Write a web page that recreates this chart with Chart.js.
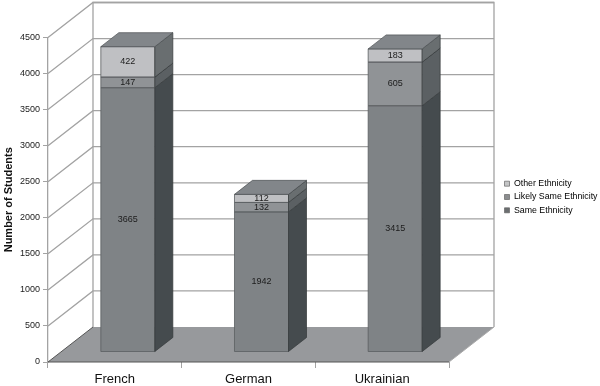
<!DOCTYPE html>
<html><head><meta charset="utf-8">
<style>html,body{margin:0;padding:0;background:#fff}#w{width:600px;height:386px}</style>
<script src="https://cdn.jsdelivr.net/npm/chart.js@4"></script>
</head><body><div id="w"><canvas id="c"></canvas></div>
<script>
const categories = ["French", "German", "Ukrainian"];
const sameEthnicity = [3665, 1942, 3415];
const likelySameEthnicity = [147, 132, 605];
const otherEthnicity = [422, 112, 183];
const yMax = 4500, yStep = 500;

const FONT = '"Liberation Sans", Arial, sans-serif';
const WALL_DX = 45, WALL_DY = 35;      // depth of the 3D box
const BAR_DX = 13, BAR_DY = 10;        // bar front plane inside the box
const FACE_DX = 18, FACE_DY = 14;      // bar depth
const sideColors = ['#454b4e', '#5b6063', '#696e70'];
const frontColors = ['#7f8386', '#909396', '#bfc0c3'];
const legendColors = ['#6b6e70', '#8b8d8f', '#c4c5c6'];
const GRID = '#a3a3a3';

function poly(ctx, pts, fill, stroke, lw) {
  ctx.beginPath();
  pts.forEach((p, i) => i ? ctx.lineTo(p[0], p[1]) : ctx.moveTo(p[0], p[1]));
  ctx.closePath();
  if (fill) { ctx.fillStyle = fill; ctx.fill(); }
  if (stroke) { ctx.strokeStyle = stroke; ctx.lineWidth = lw || 1; ctx.stroke(); }
}

const box3d = {
  id: 'box3d',
  beforeDatasetsDraw(chart) {
    const { ctx, scales: { x, y } } = chart;
    const L = x.left, R = x.right, B = y.bottom, T = y.top;
    ctx.save();
    ctx.lineWidth = 1.3;
    ctx.strokeStyle = GRID;
    y.ticks.forEach(t => {
      const py = y.getPixelForValue(t.value);
      if (t.value === 0) return;
      ctx.beginPath();
      ctx.moveTo(L, py);
      ctx.lineTo(L + WALL_DX, py - WALL_DY);
      ctx.lineTo(R + WALL_DX, py - WALL_DY);
      ctx.stroke();
    });
    ctx.beginPath();
    ctx.moveTo(L + WALL_DX, B - WALL_DY);
    ctx.lineTo(L + WALL_DX, T - WALL_DY);
    ctx.lineTo(R + WALL_DX, T - WALL_DY);
    ctx.lineTo(R + WALL_DX, B - WALL_DY);
    ctx.stroke();
    poly(ctx, [[L, B], [L + WALL_DX, B - WALL_DY], [R + WALL_DX, B - WALL_DY], [R, B]], '#97999c');
    ctx.strokeStyle = '#555';
    ctx.lineWidth = 1;
    ctx.beginPath();
    ctx.moveTo(L + WALL_DX, B - WALL_DY); ctx.lineTo(L, B); ctx.lineTo(R, B);
    ctx.stroke();
    ctx.strokeStyle = '#aaa';
    ctx.beginPath();
    ctx.moveTo(R, B); ctx.lineTo(R + WALL_DX, B - WALL_DY);
    ctx.stroke();
    ctx.restore();
    ctx.save();
    ctx.translate(BAR_DX, -BAR_DY);
  },
  afterDatasetsDraw(chart) {
    const { ctx } = chart;
    const n = chart.data.datasets.length;
    for (let d = 0; d < n; d++) {
      chart.getDatasetMeta(d).data.forEach(el => {
        const r = el.x + el.width / 2, l = el.x - el.width / 2;
        poly(ctx, [[l, el.y], [r, el.y], [r, el.base], [l, el.base]], null, '#5a5e61', 0.8);
        poly(ctx, [[r, el.y], [r + FACE_DX, el.y - FACE_DY], [r + FACE_DX, el.base - FACE_DY], [r, el.base]],
          sideColors[d], '#33383a', 0.7);
        if (d === n - 1) {
          poly(ctx, [[l, el.y], [l + FACE_DX, el.y - FACE_DY], [r + FACE_DX, el.y - FACE_DY], [r, el.y]],
            '#82868a', '#4a4f52', 0.7);
        }
      });
    }
    ctx.font = '9px ' + FONT;
    ctx.fillStyle = '#1c1c1c';
    ctx.textAlign = 'center';
    ctx.textBaseline = 'middle';
    for (let d = 0; d < n; d++) {
      chart.getDatasetMeta(d).data.forEach((el, i) => {
        ctx.fillText(String(chart.data.datasets[d].data[i]), el.x, (el.y + el.base) / 2);
      });
    }
    ctx.restore();
  }
};

function ds(label, data, i) {
  return { label, data, backgroundColor: frontColors[i], borderWidth: 0,
    categoryPercentage: 1, barPercentage: 0.404, stack: 's' };
}

new Chart(document.getElementById('c'), {
  type: 'bar',
  data: {
    labels: categories,
    datasets: [
      ds('Same Ethnicity', sameEthnicity, 0),
      ds('Likely Same Ethnicity', likelySameEthnicity, 1),
      ds('Other Ethnicity', otherEthnicity, 2)
    ]
  },
  plugins: [box3d],
  options: {
    responsive: true, maintainAspectRatio: false, animation: false,
    layout: { padding: { top: 8, left: 0, right: 0, bottom: 0 } },
    plugins: {
      tooltip: { enabled: false },
      legend: {
        position: 'right', reverse: true,
        labels: {
          font: { family: FONT, size: 8.8 }, color: '#333',
          boxWidth: 5, boxHeight: 5, padding: 4.5,
          generateLabels(chart) {
            return chart.data.datasets.map((s, i) => ({
              text: s.label, fillStyle: legendColors[i], strokeStyle: '#666', lineWidth: 0.7,
              datasetIndex: i, hidden: false
            }));
          }
        }
      }
    },
    scales: {
      x: {
        stacked: true,
        grid: { display: true, drawOnChartArea: false, drawTicks: true, tickLength: 6, color: GRID },
        border: { display: false },
        ticks: { color: '#111', font: { family: FONT, size: 13 }, padding: 4, maxRotation: 0 },
        afterFit(s) { s.height = 24; }
      },
      y: {
        stacked: true, min: 0, max: yMax,
        grid: { display: true, drawOnChartArea: false, drawTicks: true, tickLength: 5, color: GRID },
        border: { display: true, color: GRID, width: 1.3 },
        ticks: { stepSize: yStep, color: '#222', font: { family: FONT, size: 9 }, padding: 3,
          callback: v => String(v) },
        title: { display: true, text: 'Number of Students', color: '#111', padding: 2,
          font: { family: FONT, size: 11, weight: 'bold' } },
        afterFit(s) { s.width = 48; }
      },
      spacer: {
        type: 'linear', position: 'right', axis: 'y',
        grid: { display: false }, border: { display: false }, ticks: { display: false },
        afterFit(s) { s.width = 51; }
      },
      topSpacer: {
        type: 'linear', position: 'top', axis: 'x',
        grid: { display: false }, border: { display: false }, ticks: { display: false },
        afterFit(s) { s.height = 29.5; }
      }
    }
  }
});
</script></body></html>
